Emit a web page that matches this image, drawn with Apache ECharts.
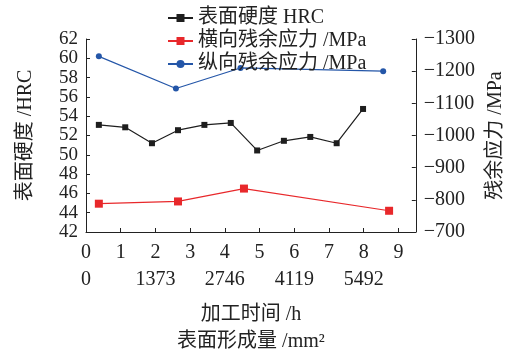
<!DOCTYPE html>
<html><head><meta charset="utf-8">
<script src="https://cdn.jsdelivr.net/npm/echarts@6/dist/echarts.min.js"></script>
<style>html,body{margin:0;padding:0;background:#fff}#c{width:514px;height:357px}</style>
</head><body><div id="c"></div>
<script>
const seriesNames = ['表面硬度 HRC', '横向残余应力 /MPa', '纵向残余应力 /MPa'];
const hardnessX = [0.37, 1.13, 1.9, 2.65, 3.41, 4.17, 4.93, 5.7, 6.46, 7.22, 7.98];
const hardness = [53.1, 52.85, 51.2, 52.55, 53.1, 53.3, 50.45, 51.45, 51.85, 51.2, 54.75];
const transX = [0.37, 2.65, 4.55, 8.73];
const transStress = [-788, -795, -835, -766];
const longX = [0.37, 2.59, 4.45, 8.56];
const longStress = [-1246, -1146, -1210, -1200];
const areaLabels = ['0', '1373', '2746', '4119', '5492'];

const FONT = "'Liberation Serif', 'Noto Sans CJK SC', serif";
const txt = () => ({ fontFamily: FONT, fontSize: 20, color: '#222' });
const zip = (xs, ys) => xs.map((x, i) => [x, ys[i]]);
const tick = () => ({ show: true, inside: true, length: 4, lineStyle: { color: '#222', width: 1 } });

const chart = echarts.init(document.getElementById('c'), null, { renderer: 'canvas' });
chart.setOption({
  animation: false,
  backgroundColor: '#fff',
  grid: { left: 86, right: 97, top: 39, bottom: 120 },
  legend: {
    orient: 'vertical', left: 162, top: 3, itemGap: 3,
    itemWidth: 25, itemHeight: 10,
    data: seriesNames,
    textStyle: txt()
  },
  xAxis: [{
    type: 'value', min: 0, max: 9.5, interval: 1, position: 'bottom',
    axisLine: { show: true, lineStyle: { color: '#222', width: 1 } },
    axisTick: tick(),
    axisLabel: { fontFamily: FONT, fontSize: 20, color: '#222', margin: 11,
      formatter: v => Number.isInteger(v) ? String(v) : '' },
    splitLine: { show: false },
    name: '加工时间 /h', nameLocation: 'middle', nameGap: 73,
    nameTextStyle: txt()
  }, {
    type: 'value', min: 0, max: 9.5, interval: 2, position: 'bottom', offset: 27,
    axisLine: { show: false }, axisTick: { show: false },
    axisLabel: { fontFamily: FONT, fontSize: 20, color: '#222', margin: 11, showMinLabel: true, showMaxLabel: false,
      formatter: v => (Number.isInteger(v) && v % 2 === 0) ? areaLabels[v / 2] : '' },
    splitLine: { show: false },
    name: '表面形成量 /mm²', nameLocation: 'middle', nameGap: 73,
    nameTextStyle: txt()
  }],
  yAxis: [{
    type: 'value', min: 42, max: 62, interval: 2, position: 'left',
    axisLine: { show: true, lineStyle: { color: '#222', width: 1 } },
    axisTick: tick(),
    axisLabel: { fontFamily: FONT, fontSize: 19, color: '#222', margin: 8, showMinLabel: true, showMaxLabel: true },
    splitLine: { show: false },
    name: '表面硬度 /HRC', nameLocation: 'middle', nameGap: 50, nameRotate: 90,
    nameTextStyle: txt()
  }, {
    type: 'value', min: -1300, max: -700, interval: 100, inverse: true, position: 'right',
    axisLine: { show: true, onZero: false, lineStyle: { color: '#222', width: 1 } },
    axisTick: tick(),
    axisLabel: { fontFamily: FONT, fontSize: 20, color: '#222', margin: 8,
      formatter: v => String(v).replace('-', '\u2212') },
    splitLine: { show: false },
    name: '残余应力 /MPa', nameLocation: 'middle', nameGap: 70, nameRotate: 90,
    nameTextStyle: txt()
  }],
  series: [{
    name: seriesNames[0], type: 'line', xAxisIndex: 0, yAxisIndex: 0,
    data: zip(hardnessX, hardness),
    symbol: 'rect', symbolSize: 6,
    itemStyle: { color: '#1e1e1e' }, lineStyle: { color: '#1e1e1e', width: 1.2 }
  }, {
    name: seriesNames[1], type: 'line', xAxisIndex: 0, yAxisIndex: 1,
    data: zip(transX, transStress),
    symbol: 'rect', symbolSize: 8,
    itemStyle: { color: '#e8282b' }, lineStyle: { color: '#e8282b', width: 1.2 }
  }, {
    name: seriesNames[2], type: 'line', xAxisIndex: 0, yAxisIndex: 1,
    data: zip(longX, longStress),
    symbol: 'circle', symbolSize: 6,
    itemStyle: { color: '#2456a8' }, lineStyle: { color: '#2456a8', width: 1.2 }
  }]
});
</script></body></html>
